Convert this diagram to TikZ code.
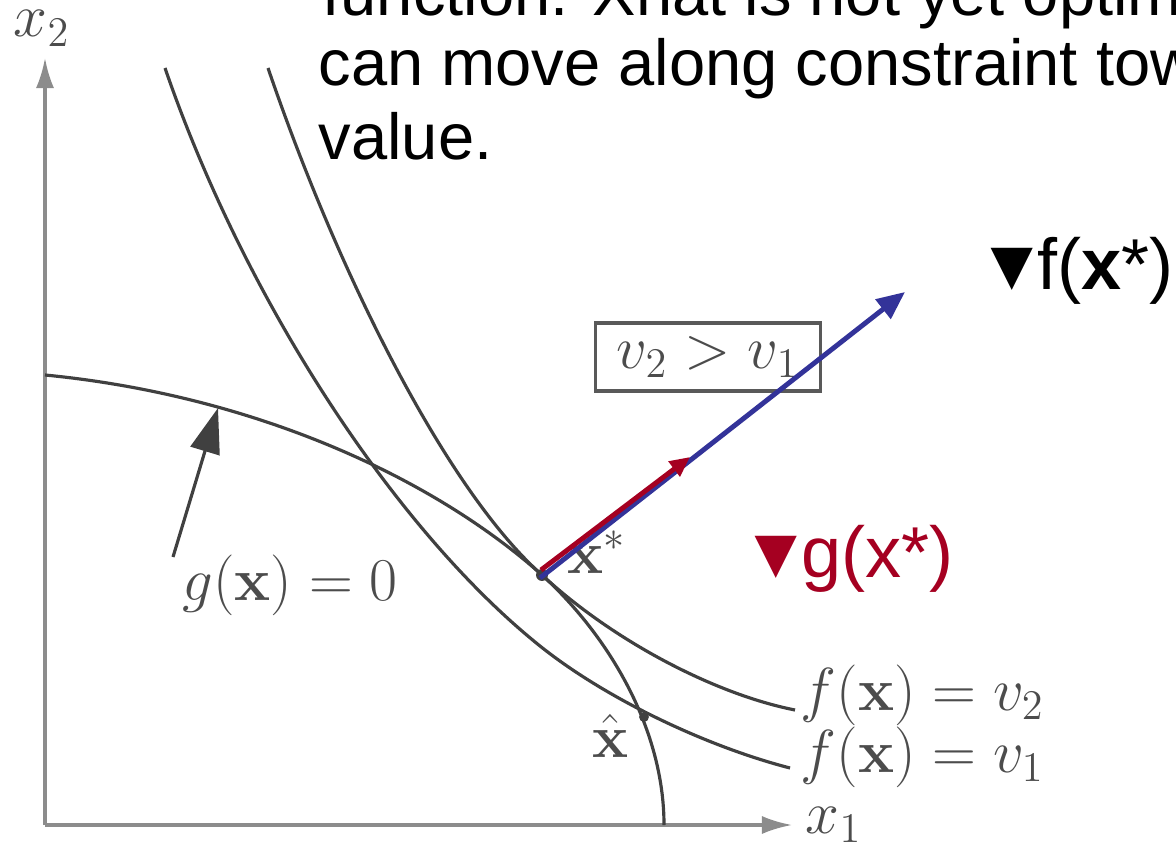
\documentclass[tikz,border=0pt]{standalone}
\usepackage[no-math]{fontspec}
\setmainfont{Liberation Sans}
\usetikzlibrary{arrows.meta}
\definecolor{fblue}{RGB}{51,51,153}
\definecolor{gred}{RGB}{165,0,33}

\begin{document}
\begin{tikzpicture}[
  x=0.01cm, y=-0.01cm,
  crv/.style={draw=black!75, line width=0.9pt},
  axs/.style={draw=black!45, line width=0.9pt, -{Latex[length=3mm,width=1.8mm]}},
  ptr/.style={draw=black!75, line width=0.9pt, -{Triangle[length=4.5mm,width=3mm]}},
  garr/.style={line width=1.4pt, -{Triangle[length=2.8mm,width=2.4mm]}},
  lbl/.style={text=black!70, font=\fontsize{18}{20}\selectfont, inner sep=0pt},
  cmpbox/.style={lbl, draw=black!65, line width=1pt, minimum width=2.25cm, minimum height=0.68cm},
  slide/.style={font=\fontsize{18.5}{22}\selectfont, anchor=base west, inner sep=0pt},
  grad/.style={font=\fontsize{20.5}{24}\selectfont, anchor=base west, inner sep=0pt}
]
\useasboundingbox (0,0) rectangle (1176,849);
\clip (0,0) rectangle (1176,849);

\node[slide] (l1) at (322,16) {function.  Xhat is not yet optim};
\node[slide] (l2) at (318,86) {can move along constraint tow};
\node[slide] (l3) at (318,160) {value.};

\coordinate (o) at (45,825);
\coordinate (x2end) at (45,58);
\coordinate (x1end) at (792,825);
\draw[axs] (o) -- (x2end);
\draw[axs] (o) -- (x1end);
\node[lbl, anchor=base west] (x2lab) at (13,37) {$x_2$};
\node[lbl, anchor=base west] (x1lab) at (805,833) {$x_1$};

\coordinate (xstar) at (542,575);
\draw[crv] (45,375) .. controls (250,395) and (430,475) .. (xstar)
  .. controls (610,637) and (664,730) .. (664,825);
\draw[crv] (165,68) .. controls (244,298) and (394,529) .. (540,646)
  .. controls (605,698) and (705,746) .. (790,768);
\draw[crv] (268,68) .. controls (341,282) and (450,494) .. (xstar)
  .. controls (612,640) and (714,694) .. (795,710);

\coordinate (xhat) at (644,717);
\fill[black!75] (xstar) circle (1.7pt);
\fill[black!75] (xhat) circle (1.4pt);
\node[lbl, anchor=base west] (xslab) at (567,573) {$\mathbf{x}^*$};
\node[lbl, anchor=base west] (xhlab) at (592,757) {$\hat{\mathbf{x}}$};

\node[lbl, anchor=base west] (v2lab) at (800,710) {$f(\mathbf{x}) = v_2$};
\node[lbl, anchor=base west] (v1lab) at (800,772) {$f(\mathbf{x}) = v_1$};

\coordinate (gtail) at (173,557);
\coordinate (gtip) at (218,408);
\draw[ptr] (gtail) -- (gtip);
\node[lbl, anchor=base] (glab) at (290,600) {$g(\mathbf{x}) = 0$};

\node[cmpbox] (cmp) at (708,357) {$v_2 > v_1$};

\coordinate (fstart) at (540,578);
\coordinate (fhead) at (905,292);
\coordinate (gstart) at (541,570);
\coordinate (ghead) at (690,457);
\draw[garr, draw=fblue, fill=fblue] (fstart) -- (fhead);
\draw[garr, draw=gred, fill=gred, -{Triangle[length=2mm,width=1.8mm]}] (gstart) -- (ghead);

\node[grad] (gflab) at (976,290) {▼\kern-3pt f(\textbf{x}*)};
\node[grad, text=gred] (gglab) at (740,577) {▼\kern-3pt g(x*)};
\end{tikzpicture}
\end{document}
